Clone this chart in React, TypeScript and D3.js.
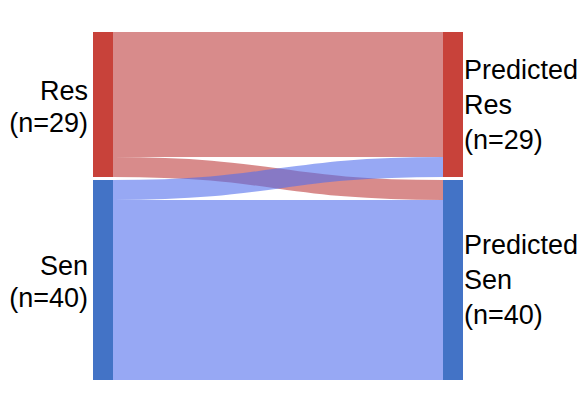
import { useEffect, useRef } from 'react';
import * as d3 from 'd3';

// observed classes (left) vs predicted classes (right)
const sourceNames = ['Res', 'Sen'];
const targetNames = ['Predicted Res', 'Predicted Sen'];
// flows[source][target]
const flows = [
  [25, 4],
  [4, 36],
];
const nodeColors = ['#c8423a', '#4373c6'];
const linkColors = ['rgb(190,62,62)', 'rgb(82,110,236)'];

const width = 582;
const height = 412;

export default function App() {
  const svgRef = useRef<SVGSVGElement>(null);

  useEffect(() => {
    if (!svgRef.current) return;
    document.body.style.margin = '0';
    const svg = d3.select(svgRef.current);
    svg.selectAll('*').remove();

    const top = 32;
    const bottom = 380;
    const gap = 3;
    const nodeW = 20;
    const xLeft = 93;
    const xRight = 443;

    const srcTotals = flows.map(r => d3.sum(r));
    const tgtTotals = targetNames.map((_, j) => d3.sum(flows, r => r[j]));
    const total = d3.sum(srcTotals);

    const k = d3.scaleLinear().domain([0, total]).range([0, bottom - top - gap * (sourceNames.length - 1)]);

    const stack = (totals: number[]) => {
      let y = top;
      return totals.map(t => {
        const n = { y0: y, y1: y + k(t) };
        y = n.y1 + gap;
        return n;
      });
    };
    const srcNodes = stack(srcTotals);
    const tgtNodes = stack(tgtTotals);

    // link offsets within each node
    const srcOff = srcNodes.map(n => n.y0);
    const tgtOff = tgtNodes.map(n => n.y0);
    const links: { s: number; t: number; w: number; ys: number; yt: number }[] = [];
    flows.forEach((row, i) => {
      row.forEach((v, j) => {
        const w = k(v);
        links.push({ s: i, t: j, w, ys: srcOff[i] + w / 2, yt: tgtOff[j] + w / 2 });
        srcOff[i] += w;
        tgtOff[j] += w;
      });
    });

    const linkGen = d3.linkHorizontal<any, [number, number]>()
      .source(d => [xLeft + nodeW, d.ys])
      .target(d => [xRight, d.yt])
      .x(d => d[0])
      .y(d => d[1]);

    svg.append('g')
      .attr('fill', 'none')
      .selectAll('path')
      .data(links)
      .join('path')
      .attr('d', d => linkGen(d as any))
      .attr('stroke', d => linkColors[d.s])
      .attr('stroke-opacity', 0.6)
      .attr('stroke-width', d => d.w);

    const g = svg.append('g');
    g.selectAll('rect.src')
      .data(srcNodes)
      .join('rect')
      .attr('x', xLeft)
      .attr('y', d => d.y0)
      .attr('width', nodeW)
      .attr('height', d => d.y1 - d.y0)
      .attr('fill', (_, i) => nodeColors[i]);
    g.selectAll('rect.tgt')
      .data(tgtNodes)
      .join('rect')
      .attr('class', 'tgt')
      .attr('x', xRight)
      .attr('y', d => d.y0)
      .attr('width', nodeW)
      .attr('height', d => d.y1 - d.y0)
      .attr('fill', (_, i) => nodeColors[i]);

    const font = '"Liberation Sans", Arial, Helvetica, sans-serif';

    const label = (lines: string[], x: number, cy: number, anchor: string, off: number, lh: number) => {
      const t = svg.append('text')
        .attr('font-family', font)
        .attr('font-size', 27)
        .attr('fill', '#000')
        .attr('text-anchor', anchor);
      lines.forEach((l, i) => {
        t.append('tspan')
          .attr('x', x)
          .attr('y', cy + (i - (lines.length - 1) / 2) * lh + off)
          .text(l);
      });
    };

    sourceNames.forEach((name, i) => {
      const n = srcNodes[i];
      label([name, `(n=${srcTotals[i]})`], xLeft - 5, (n.y0 + n.y1) / 2, 'end', 11, 32);
    });
    targetNames.forEach((name, j) => {
      const n = tgtNodes[j];
      label([...name.split(' '), `(n=${tgtTotals[j]})`], xRight + nodeW + 1, (n.y0 + n.y1) / 2, 'start', 9, 35);
    });
  }, []);

  return (
    <svg
      ref={svgRef}
      width={width}
      height={height}
      style={{ display: 'block', background: '#fff' }}
    />
  );
}
